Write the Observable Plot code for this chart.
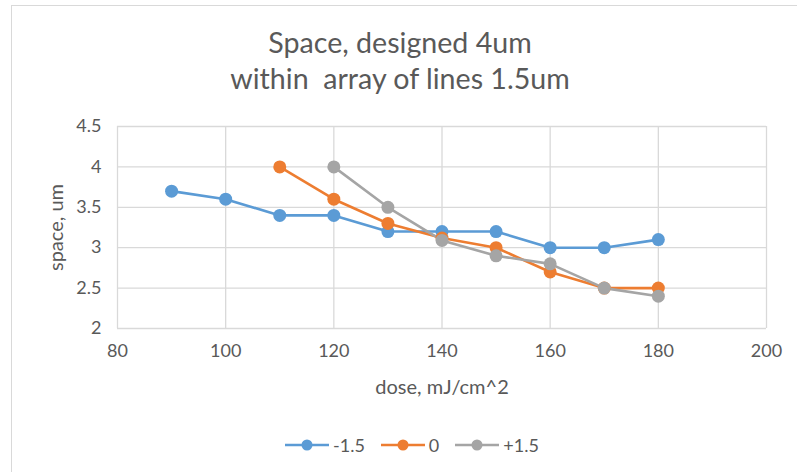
<!DOCTYPE html>
<html><head><meta charset="utf-8">
<script src="https://cdn.jsdelivr.net/npm/d3@7"></script>
<script src="https://cdn.jsdelivr.net/npm/@observablehq/plot@0.6"></script>
<style>
body{margin:0;background:#fff;font-family:Lato,"Open Sans",sans-serif;}
#wrap{position:relative;width:797px;height:472px;overflow:hidden;background:#fff;}
#frame{position:absolute;left:11px;top:5px;width:820px;height:500px;border:1px solid #d9d9d9;box-sizing:border-box;}
#title{position:absolute;left:0;width:800px;top:24px;text-align:center;color:#595959;font-size:28.6px;line-height:36px;}
#chart{position:absolute;left:0;top:100px;}
#legend{position:absolute;left:285px;top:434px;display:flex;align-items:center;color:#595959;font-size:18px;}
#legend .item{display:flex;align-items:center;margin-right:16px;}
#legend svg{margin-right:4px;}
g[aria-label="x-axis label"], g[aria-label="y-axis label"]{font-size:20px;}
</style>
</head><body>
<div id="wrap">
  <div id="frame"></div>
  <div id="title">Space, designed 4um<br>within&nbsp; array of lines 1.5um</div>
  <div id="chart"></div>
  <div id="legend"></div>
</div>
<script>
const seriesNames = ["-1.5", "0", "+1.5"];
const seriesColors = ["#5B9BD5", "#ED7D31", "#A5A5A5"];
const dosesM15 = [90, 100, 110, 120, 130, 140, 150, 160, 170, 180];
const spaceM15 = [3.7, 3.6, 3.4, 3.4, 3.2, 3.2, 3.2, 3.0, 3.0, 3.1];
const doses0 = [110, 120, 130, 140, 150, 160, 170, 180];
const space0 = [4.0, 3.6, 3.3, 3.12, 3.0, 2.7, 2.5, 2.5];
const dosesP15 = [120, 130, 140, 150, 160, 170, 180];
const spaceP15 = [4.0, 3.5, 3.09, 2.9, 2.8, 2.5, 2.4];
const xTicks = [80, 100, 120, 140, 160, 180, 200];
const yTicks = [2, 2.5, 3, 3.5, 4, 4.5];

const rows = [];
[[dosesM15, spaceM15], [doses0, space0], [dosesP15, spaceP15]].forEach(([xs, ys], i) => {
  xs.forEach((d, j) => rows.push({series: seriesNames[i], dose: d, space: ys[j]}));
});

const chart = Plot.plot({
  width: 797,
  height: 300,
  marginLeft: 117,
  marginRight: 31,
  marginTop: 26,
  marginBottom: 72,
  style: {fontFamily: "Lato, 'Open Sans', sans-serif", fontSize: "18px", color: "#595959", background: "transparent", overflow: "visible"},
  x: {domain: [80, 200]},
  y: {domain: [2, 4.5]},
  color: {domain: seriesNames, range: seriesColors},
  marks: [
    Plot.gridX(xTicks, {stroke: "#d9d9d9", strokeOpacity: 1, strokeWidth: 1.3}),
    Plot.gridY(yTicks, {stroke: "#d9d9d9", strokeOpacity: 1, strokeWidth: 1.3}),
    Plot.axisX(xTicks, {tickSize: 0, tickPadding: 16, label: "dose, mJ/cm^2", labelAnchor: "center", labelOffset: 65, labelArrow: "none", fill: "#595959"}),
    Plot.axisY(yTicks, {tickSize: 0, tickPadding: 16, tickFormat: d => String(d), label: "space, um", labelAnchor: "center", labelOffset: 69, labelArrow: "none", fill: "#595959"}),
    Plot.line(rows, {x: "dose", y: "space", z: "series", stroke: "series", strokeWidth: 2.6}),
    Plot.dot(rows, {x: "dose", y: "space", fill: "series", r: 6.5})
  ]
});
document.getElementById("chart").appendChild(chart);

const legend = document.getElementById("legend");
seriesNames.forEach((name, i) => {
  const item = document.createElement("div");
  item.className = "item";
  item.innerHTML = `<svg width="44" height="14"><line x1="0" x2="44" y1="7" y2="7" stroke="${seriesColors[i]}" stroke-width="2.6"/><circle cx="22" cy="7" r="5.5" fill="${seriesColors[i]}"/></svg><span>${name}</span>`;
  legend.appendChild(item);
});
</script>
</body></html>
